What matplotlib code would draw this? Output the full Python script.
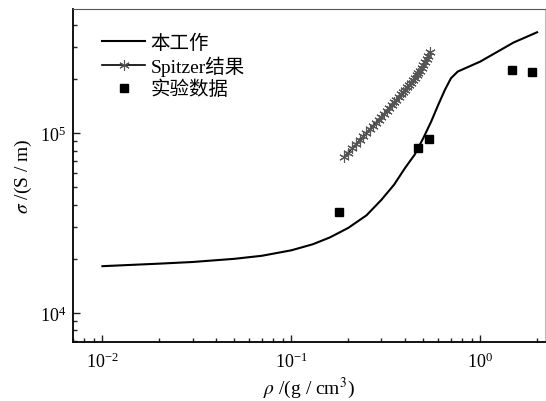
import matplotlib
matplotlib.use('Agg')
import matplotlib.pyplot as plt
from matplotlib.ticker import LogLocator, NullFormatter

plt.rcParams['font.family'] = ['Liberation Serif', 'Noto Sans CJK SC']
plt.rcParams['mathtext.fontset'] = 'stix'

# 本工作 (model curve)
work_rho = [0.01, 0.02, 0.03, 0.05, 0.07, 0.1, 0.13, 0.16, 0.2, 0.25, 0.3,
            0.35, 0.4, 0.45, 0.5, 0.55, 0.6, 0.65, 0.7, 0.76, 1.0, 1.5, 2.0]
work_sigma = [1.82e4, 1.88e4, 1.92e4, 2.0e4, 2.08e4, 2.23e4, 2.41e4, 2.63e4,
              2.97e4, 3.49e4, 4.26e4, 5.17e4, 6.4e4, 7.6e4, 9.4e4, 1.16e5,
              1.44e5, 1.74e5, 2.02e5, 2.2e5, 2.5e5, 3.19e5, 3.64e5]

# Spitzer 结果
spitzer_rho = [0.19, 0.20, 0.21, 0.22, 0.23, 0.24, 0.25, 0.26, 0.27, 0.28,
               0.29, 0.30, 0.31, 0.32, 0.33, 0.34, 0.35, 0.36, 0.37, 0.38,
               0.39, 0.40, 0.41, 0.42, 0.43, 0.44, 0.45, 0.46, 0.47, 0.48,
               0.49, 0.50, 0.51, 0.52, 0.53, 0.54]
spitzer_sigma = [7.35e4, 7.80e4, 8.24e4, 8.67e4, 9.14e4, 9.59e4, 1.005e5,
                 1.05e5, 1.096e5, 1.143e5, 1.188e5, 1.236e5, 1.285e5, 1.336e5,
                 1.387e5, 1.435e5, 1.486e5, 1.538e5, 1.589e5, 1.643e5,
                 1.694e5, 1.746e5, 1.80e5, 1.854e5, 1.91e5, 1.97e5, 2.03e5,
                 2.094e5, 2.153e5, 2.22e5, 2.30e5, 2.39e5, 2.48e5, 2.59e5,
                 2.70e5, 2.83e5]

# 实验数据
exp_rho = [0.179, 0.466, 0.533, 1.48, 1.89]
exp_sigma = [3.62e4, 8.32e4, 9.22e4, 2.24e5, 2.19e5]

fig = plt.figure(figsize=(5.46, 4.02), dpi=100)
ax = fig.add_axes([0.134, 0.147, 0.864, 0.828])

ax.plot(work_rho, work_sigma, color='black', lw=1.5, label='本工作')
ax.plot(spitzer_rho, spitzer_sigma, color='black', lw=1.2,
        marker=(6, 2, 0), ms=7.5, mec='#555555', mew=0.8,
        label='Spitzer结果')
ax.plot(exp_rho, exp_sigma, ls='none', marker='s', ms=5.5,
        color='black', label='实验数据')

ax.set_xscale('log')
ax.set_yscale('log')
ax.set_xlim(0.0070, 2.2)
ax.set_ylim(6.9e3, 4.9e5)

ax.xaxis.set_minor_locator(LogLocator(base=10, subs=range(2, 10)))
ax.yaxis.set_minor_locator(LogLocator(base=10, subs=range(2, 10)))
ax.xaxis.set_minor_formatter(NullFormatter())
ax.yaxis.set_minor_formatter(NullFormatter())
ax.tick_params(which='both', direction='in', top=False, right=False,
               labelsize=13, width=1.0, color='#222222')
ax.tick_params(which='major', length=5)
ax.tick_params(axis='x', which='major', pad=7)
ax.tick_params(axis='y', which='major', pad=5)
ax.tick_params(which='minor', length=3)

for s in ['left', 'bottom']:
    ax.spines[s].set_linewidth(1.3)
ax.spines['top'].set_color('#555555')
ax.spines['right'].set_color('#bbbbbb')

ax.set_xlabel(r'$\rho$ /(g / cm$^3$)', fontsize=14, labelpad=3)
ax.set_ylabel(r'$\sigma$ /(S / m)', fontsize=14, labelpad=4)

ax.legend(loc='upper left', bbox_to_anchor=(0.045, 0.95), frameon=False,
          fontsize=14, handlelength=2.2, handletextpad=0.3,
          labelspacing=0.2, borderaxespad=0.0)

fig.savefig('out.png', dpi=100)
